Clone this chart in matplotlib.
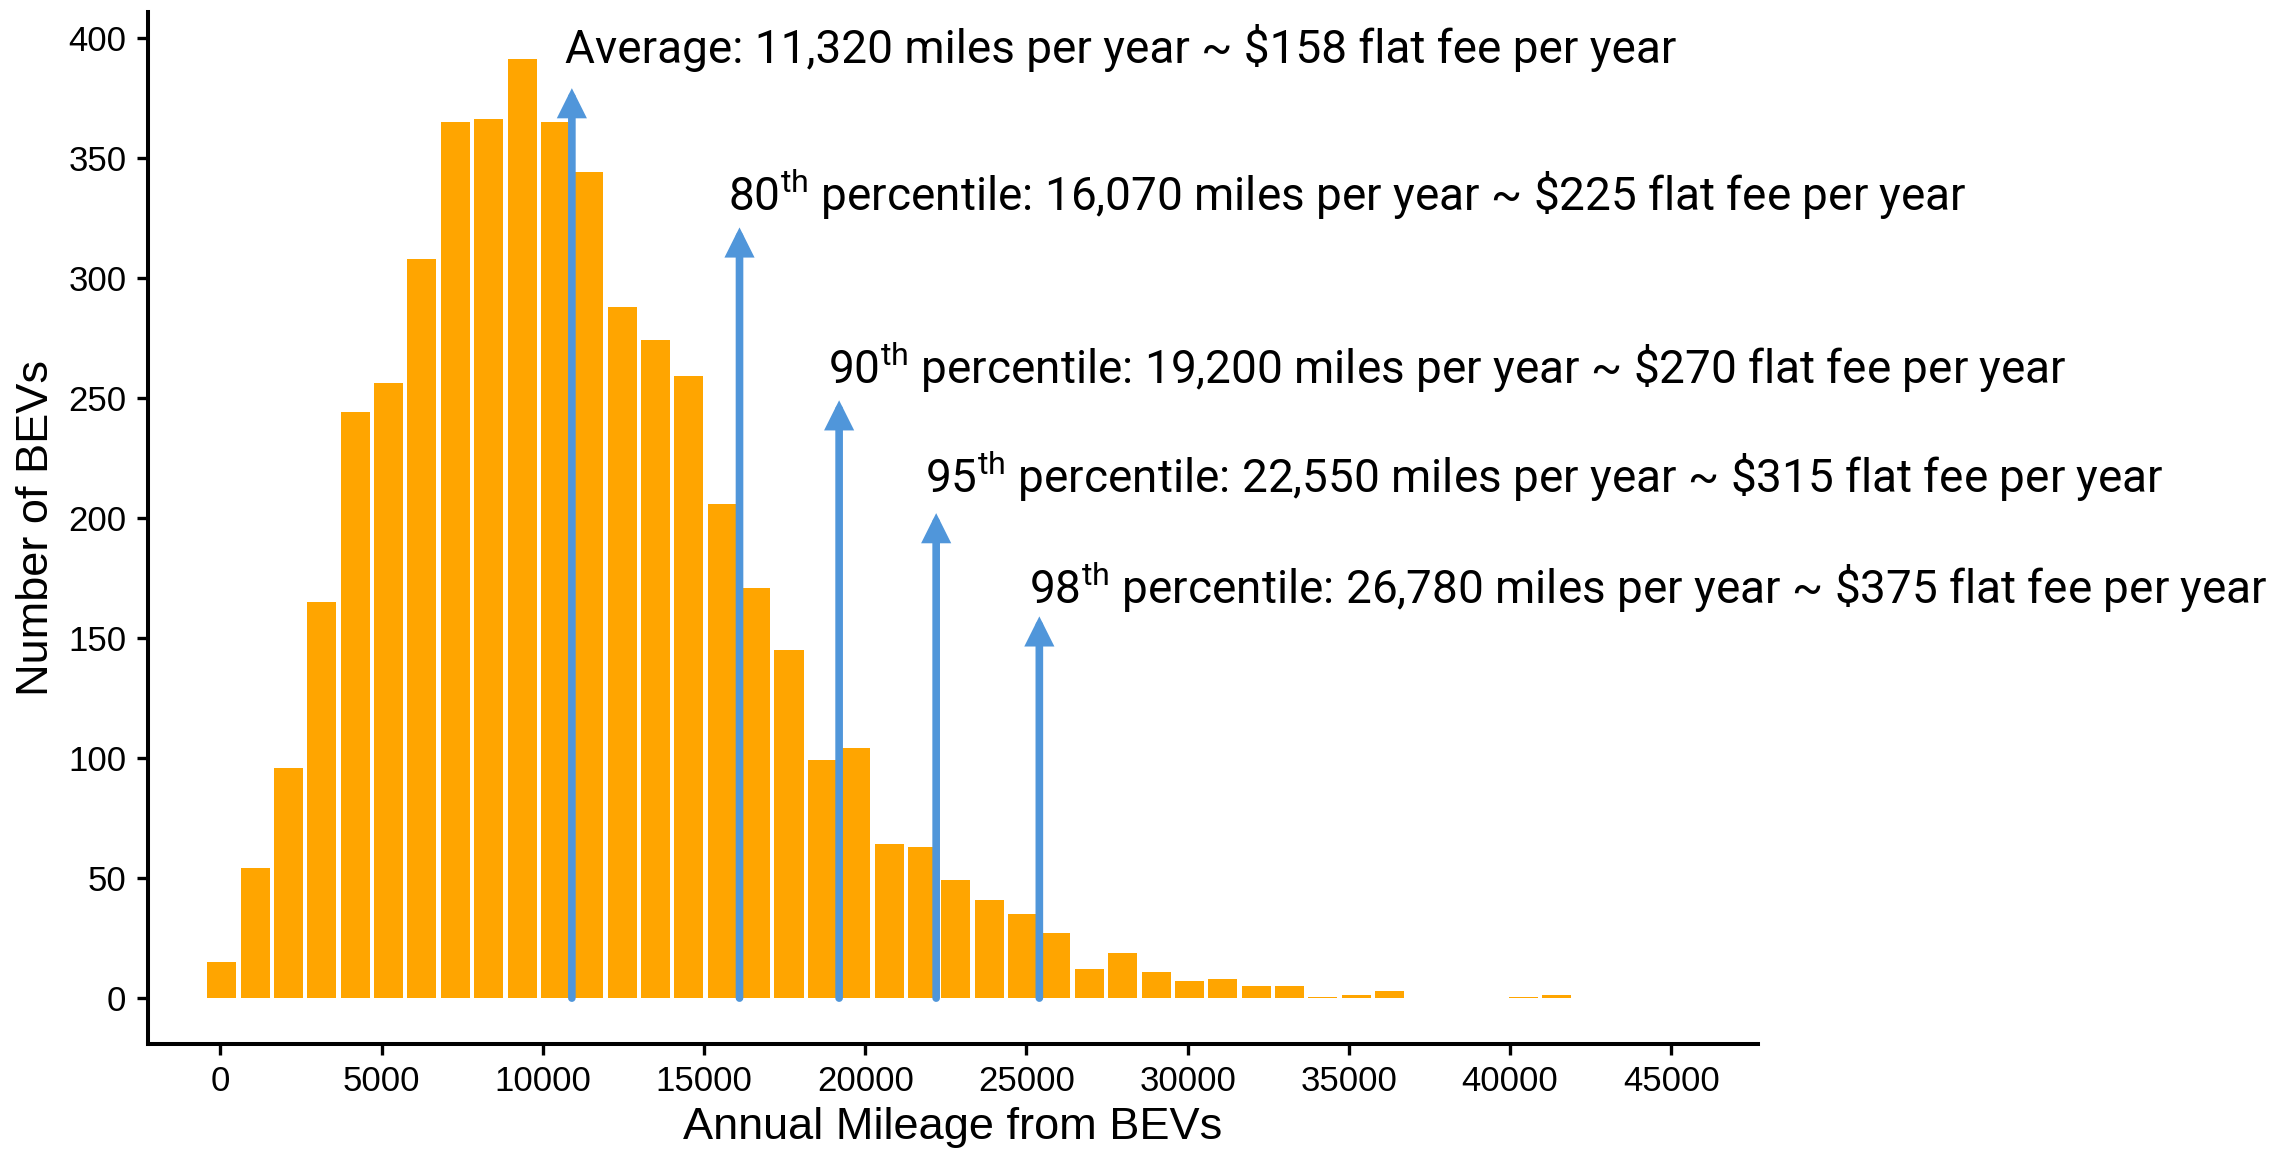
import matplotlib
matplotlib.use('Agg')
import matplotlib.pyplot as plt
import numpy as np

# Histogram of annual BEV mileage (bin counts)
bin_width = 1035
first_center = 40
counts = [15, 54, 96, 165, 244, 256, 308, 365, 366, 391, 365, 344, 288, 274, 259,
          206, 171, 145, 99, 104, 64, 63, 49, 41, 35, 27, 12, 19, 11, 7,
          8, 5, 5, 0.3, 1.2, 3, 0, 0, 0, 0.3, 1.2]

# Annotation arrows (x position, arrow tip) and their labels
arrow_x = [10900, 16100, 19190, 22200, 25400]
arrow_tip = [379, 321, 249, 202, 159]
label_x = [10676, 15736, 18836, 21842, 25085]
label_y = [389.5, 328.2, 256.4, 210.8, 164.6]
labels = [
    r'Average: 11,320 miles per year ~ \$158 flat fee per year',
    r'80$^{\mathrm{th}}$ percentile: 16,070 miles per year ~ \$225 flat fee per year',
    r'90$^{\mathrm{th}}$ percentile: 19,200 miles per year ~ \$270 flat fee per year',
    r'95$^{\mathrm{th}}$ percentile: 22,550 miles per year ~ \$315 flat fee per year',
    r'98$^{\mathrm{th}}$ percentile: 26,780 miles per year ~ \$375 flat fee per year',
]

plt.rcParams['font.family'] = ['Liberation Sans', 'DejaVu Sans']
plt.rcParams['mathtext.fontset'] = 'custom'
plt.rcParams['mathtext.rm'] = 'Roboto'

fig = plt.figure(figsize=(22.95, 11.5), dpi=100)
ax = fig.add_axes([0.0645, 0.0924, 0.7015, 0.8971])

centers = first_center + bin_width * np.arange(len(counts))
ax.bar(centers, counts, width=900, color='#FFA500', linewidth=0, zorder=2)

# Arrows + labels
for x, tip, lx, ly, txt in zip(arrow_x, arrow_tip, label_x, label_y, labels):
    ax.annotate('', xy=(x, tip), xytext=(x, 0),
                arrowprops=dict(arrowstyle='-|>', color='#5096DA', lw=5.5,
                                mutation_scale=32, shrinkA=0, shrinkB=0,
                                joinstyle='miter'),
                zorder=3)
    ax.text(lx, ly, txt, fontsize=33, family='Roboto', ha='left', va='baseline',
            clip_on=False, zorder=4)

ax.set_xlim(-2246, 47690)
ax.set_ylim(-19, 410.7)
ax.set_xticks(range(0, 45001, 5000))
ax.set_yticks(range(0, 401, 50))

for side in ['top', 'right']:
    ax.spines[side].set_visible(False)
for side in ['left', 'bottom']:
    ax.spines[side].set_linewidth(2.9)
ax.tick_params(axis='both', labelsize=25, length=8, width=2.4, pad=7.5, colors='black')

ax.set_xlabel('Annual Mileage from BEVs', fontsize=32.5, labelpad=6)
ax.set_ylabel('Number of BEVs', fontsize=32.5, labelpad=8)

plt.savefig('out.png', dpi=100)
